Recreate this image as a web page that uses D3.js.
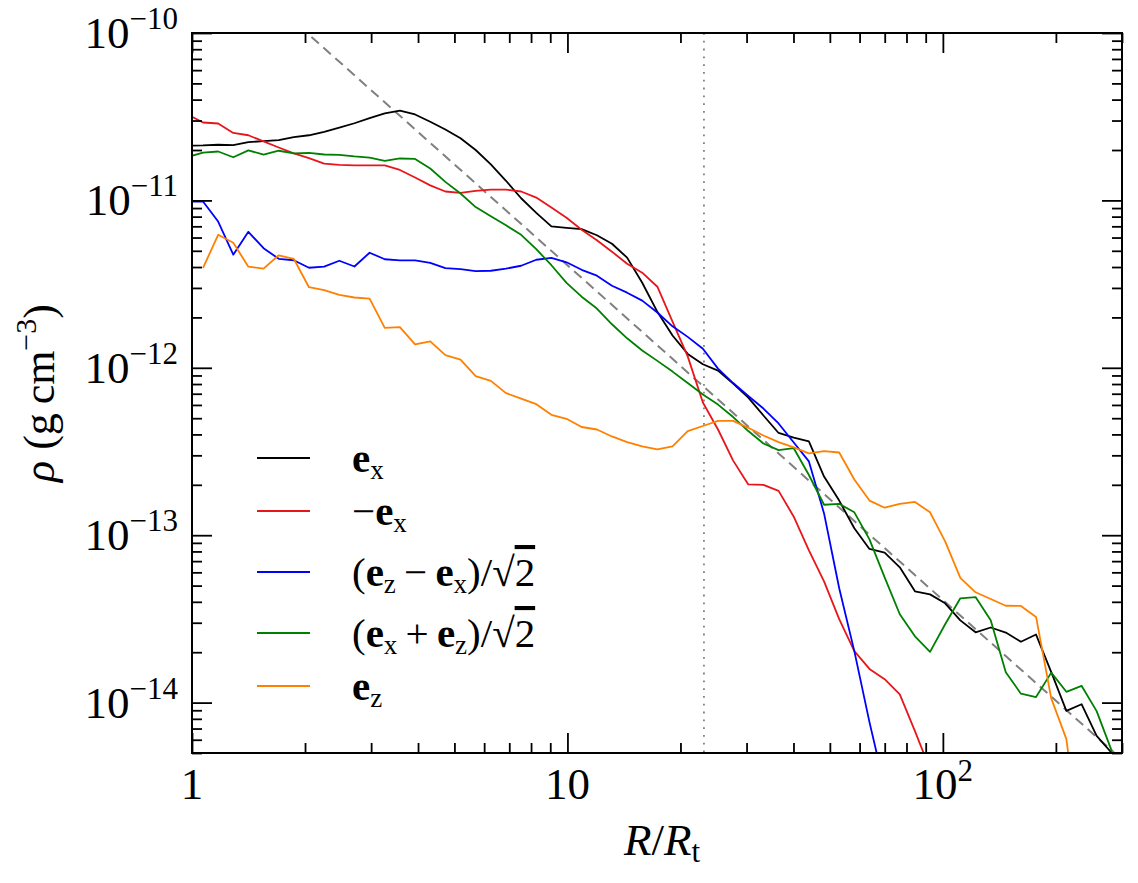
<!DOCTYPE html>
<html>
<head>
<meta charset="utf-8">
<script src="https://cdn.jsdelivr.net/npm/d3@7"></script>
<style>
  body { margin: 0; background: #fff; }
  text { font-family: "Liberation Serif", "Times New Roman", serif; fill: #000; }
</style>
</head>
<body>
<div id="app"></div>
<script>
// radial bins, R / R_t
const radius = [0.975, 1.070, 1.174, 1.288, 1.413, 1.551, 1.702, 1.867, 2.049, 2.249,
  2.468, 2.708, 2.972, 3.262, 3.579, 3.928, 4.311, 4.730, 5.191, 5.696,
  6.251, 6.860, 7.528, 8.261, 9.063, 9.945, 10.91, 11.98, 13.14, 14.42,
  15.82, 17.36, 19.05, 20.91, 22.95, 25.18, 27.63, 30.32, 33.27, 36.51,
  40.07, 43.97, 48.25, 52.95, 58.10, 63.75, 69.97, 76.78, 84.26, 92.44,
  101.4, 111.3, 122.2, 134.1, 147.1, 161.4, 177.1, 194.4, 213.3, 234.1,
  256.8, 281.8];

// density profiles (g cm^-3) along each direction
const rhoEx = [2.12e-11, 2.13e-11, 2.15e-11, 2.14e-11, 2.23e-11, 2.26e-11, 2.29e-11, 2.39e-11, 2.45e-11, 2.57e-11,
  2.72e-11, 2.89e-11, 3.10e-11, 3.31e-11, 3.44e-11, 3.26e-11, 2.95e-11, 2.65e-11, 2.35e-11, 2.00e-11,
  1.64e-11, 1.31e-11, 1.03e-11, 8.43e-12, 7.00e-12, 6.86e-12, 6.74e-12, 6.19e-12, 5.51e-12, 4.55e-12,
  3.22e-12, 2.16e-12, 1.56e-12, 1.21e-12, 1.05e-12, 9.62e-13, 8.05e-13, 6.64e-13, 5.19e-13, 4.08e-13,
  3.83e-13, 3.63e-13, 2.24e-13, 1.61e-13, 1.10e-13, 8.28e-14, 7.86e-14, 6.43e-14, 4.62e-14, 4.43e-14,
  3.92e-14, 3.10e-14, 2.63e-14, 2.81e-14, 2.62e-14, 2.31e-14, 2.55e-14, 1.52e-14, 8.92e-15, 9.78e-15,
  6.33e-15, 5.0e-15];

const rhoMinusEx = [3.26e-11, 2.92e-11, 2.88e-11, 2.53e-11, 2.45e-11, 2.25e-11, 2.07e-11, 1.91e-11, 1.79e-11, 1.66e-11,
  1.63e-11, 1.62e-11, 1.62e-11, 1.62e-11, 1.52e-11, 1.37e-11, 1.23e-11, 1.13e-11, 1.11e-11, 1.14e-11,
  1.16e-11, 1.16e-11, 1.13e-11, 1.04e-11, 9.06e-12, 7.87e-12, 6.68e-12, 5.78e-12, 4.94e-12, 4.18e-12,
  3.70e-12, 3.05e-12, 1.89e-12, 1.17e-12, 6.20e-13, 4.28e-13, 2.79e-13, 2.01e-13, 2.00e-13, 1.84e-13,
  1.29e-13, 8.12e-14, 5.30e-14, 3.15e-14, 2.03e-14, 1.59e-14, 1.38e-14, 1.12e-14, 6.75e-15, 4.0e-15];

const rhoZminusX = [9.85e-12, 9.85e-12, 7.48e-12, 4.74e-12, 6.49e-12, 5.18e-12, 4.48e-12, 4.39e-12, 3.96e-12, 4.02e-12,
  4.36e-12, 4.03e-12, 4.87e-12, 4.45e-12, 4.38e-12, 4.38e-12, 4.24e-12, 3.94e-12, 3.89e-12, 3.78e-12,
  3.80e-12, 3.91e-12, 4.07e-12, 4.42e-12, 4.53e-12, 4.27e-12, 3.85e-12, 3.55e-12, 3.09e-12, 2.81e-12,
  2.52e-12, 2.14e-12, 1.77e-12, 1.53e-12, 1.30e-12, 9.89e-13, 8.11e-13, 6.78e-13, 5.71e-13, 4.65e-13,
  3.58e-13, 2.76e-13, 1.35e-13, 4.82e-14, 2.03e-14, 7.64e-15, 3.13e-15];

const rhoXplusZ = [1.82e-11, 1.93e-11, 1.96e-11, 1.81e-11, 1.99e-11, 1.88e-11, 1.98e-11, 1.91e-11, 1.92e-11, 1.88e-11,
  1.87e-11, 1.83e-11, 1.80e-11, 1.72e-11, 1.78e-11, 1.77e-11, 1.55e-11, 1.29e-11, 1.10e-11, 9.12e-12,
  8.03e-12, 7.10e-12, 6.23e-12, 5.11e-12, 4.10e-12, 3.22e-12, 2.66e-12, 2.26e-12, 1.82e-12, 1.50e-12,
  1.27e-12, 1.10e-12, 9.49e-13, 8.11e-13, 6.92e-13, 6.03e-13, 5.08e-13, 4.19e-13, 3.53e-13, 3.22e-13,
  3.31e-13, 2.29e-13, 1.52e-13, 1.54e-13, 1.37e-13, 9.44e-14, 5.60e-14, 3.37e-14, 2.49e-14, 2.01e-14,
  2.94e-14, 4.20e-14, 4.27e-14, 3.10e-14, 1.52e-14, 1.13e-14, 1.08e-14, 1.51e-14, 1.16e-14, 1.26e-14,
  8.89e-15, 5.13e-15];

const rhoEz = [null, 3.95e-12, 6.23e-12, 5.58e-12, 4.02e-12, 3.91e-12, 4.70e-12, 4.48e-12, 3.03e-12, 2.91e-12,
  2.73e-12, 2.63e-12, 2.59e-12, 1.73e-12, 1.75e-12, 1.38e-12, 1.44e-12, 1.19e-12, 1.12e-12, 8.92e-13,
  8.35e-13, 7.06e-13, 6.55e-13, 6.06e-13, 5.24e-13, 4.96e-13, 4.43e-13, 4.28e-13, 3.89e-13, 3.60e-13,
  3.39e-13, 3.26e-13, 3.39e-13, 4.19e-13, 4.49e-13, 4.82e-13, 4.82e-13, 4.38e-13, 3.94e-13, 3.60e-13,
  3.35e-13, 3.08e-13, 3.18e-13, 3.12e-13, 2.15e-13, 1.61e-13, 1.46e-13, 1.54e-13, 1.58e-13, 1.37e-13,
  9.19e-14, 5.56e-14, 4.56e-14, 4.16e-14, 3.79e-14, 3.78e-14, 3.25e-14, 1.06e-14, 6.05e-15, 1.2e-15];

const seriesNames = ['ex', 'minusEx', 'zMinusX', 'xPlusZ', 'ez'];
const seriesColors = ['#000000', '#e8161b', '#0000ff', '#008000', '#ff8000'];
const seriesValues = [rhoEx, rhoMinusEx, rhoZminusX, rhoXplusZ, rhoEz];

// R^-2 guide and tidal radius marker
const guideR = [1, 300];
const guideRho = [4.1e-10, 4.56e-15];
const tidalR = 23.1;

const xMajor = [1, 10, 100];
const xMinor = [2, 3, 4, 5, 6, 7, 8, 9, 20, 30, 40, 50, 60, 70, 80, 90, 200, 300];
const xTickLabels = [['1', ''], ['10', ''], ['10', '2']];
const yMajor = [1e-14, 1e-13, 1e-12, 1e-11, 1e-10];
const yTickLabels = [['10', '\u221214'], ['10', '\u221213'], ['10', '\u221212'], ['10', '\u221211'], ['10', '\u221210']];

const width = 1138, height = 883;
const plot = { left: 192, top: 33, right: 1122, bottom: 753 };

const x = d3.scaleLog().domain([1, 300]).range([plot.left, plot.right]);
const y = d3.scaleLog().domain([5e-15, 1e-10]).range([plot.bottom, plot.top]);

const yMinor = [];
[-15, -14, -13, -12, -11].forEach(e => {
  for (let m = 2; m <= 9; m++) {
    const v = m * Math.pow(10, e);
    if (v >= 5e-15 && v < 1e-10) yMinor.push(v);
  }
});

const svg = d3.select('#app').append('svg')
  .attr('width', width)
  .attr('height', height);

svg.append('rect').attr('width', width).attr('height', height).attr('fill', '#fff');

svg.append('clipPath').attr('id', 'clip')
  .append('rect')
  .attr('x', plot.left).attr('y', plot.top)
  .attr('width', plot.right - plot.left).attr('height', plot.bottom - plot.top);

const body = svg.append('g').attr('clip-path', 'url(#clip)');

// vertical dotted line
body.append('line')
  .attr('x1', x(tidalR)).attr('x2', x(tidalR))
  .attr('y1', plot.top).attr('y2', plot.bottom)
  .attr('stroke', '#808080').attr('stroke-width', 1.8)
  .attr('stroke-dasharray', '1.8,6');

// dashed power-law guide
body.append('line')
  .attr('x1', x(guideR[0])).attr('y1', y(guideRho[0]))
  .attr('x2', x(guideR[1])).attr('y2', y(guideRho[1]))
  .attr('stroke', '#808080').attr('stroke-width', 2)
  .attr('stroke-dasharray', '10,6');

const line = d3.line()
  .defined(d => d.rho != null)
  .x(d => x(d.r))
  .y(d => y(d.rho));

seriesValues.forEach((vals, i) => {
  const pts = vals.map((v, j) => ({ r: radius[j], rho: v }));
  body.append('path')
    .datum(pts)
    .attr('fill', 'none')
    .attr('stroke', seriesColors[i])
    .attr('stroke-width', 1.8)
    .attr('stroke-linejoin', 'round')
    .attr('d', line);
});

// axes: inward ticks on all four sides
const tickStyle = g => {
  g.select('.domain').remove();
  g.selectAll('.tick line').attr('stroke', '#000').attr('stroke-width', 1.8);
};

const axes = [
  [d3.axisBottom(x), `translate(0,${plot.bottom})`, xMajor, xMinor],
  [d3.axisTop(x), `translate(0,${plot.top})`, xMajor, xMinor],
  [d3.axisLeft(y), `translate(${plot.left},0)`, yMajor, yMinor],
  [d3.axisRight(y), `translate(${plot.right},0)`, yMajor, yMinor]
];
axes.forEach(([ax, tr, major, minor]) => {
  svg.append('g').attr('transform', tr)
    .call(ax.tickValues(major).tickSizeInner(-20).tickSizeOuter(0).tickFormat(''))
    .call(tickStyle);
  svg.append('g').attr('transform', tr)
    .call(ax.tickValues(minor).tickSizeInner(-10).tickSizeOuter(0).tickFormat(''))
    .call(tickStyle);
});

// frame
svg.append('rect')
  .attr('x', plot.left).attr('y', plot.top)
  .attr('width', plot.right - plot.left).attr('height', plot.bottom - plot.top)
  .attr('fill', 'none').attr('stroke', '#000').attr('stroke-width', 2);

// tick labels
const labelSize = 45, supSize = 31;
xMajor.forEach((v, i) => {
  const t = svg.append('text')
    .attr('x', x(v)).attr('y', 799)
    .attr('text-anchor', 'middle')
    .attr('font-size', labelSize);
  t.append('tspan').text(xTickLabels[i][0]);
  if (xTickLabels[i][1]) t.append('tspan').attr('dy', -18).attr('font-size', supSize).text(xTickLabels[i][1]);
});
yMajor.forEach((v, i) => {
  const t = svg.append('text')
    .attr('x', 178).attr('y', y(v) + 15)
    .attr('text-anchor', 'end')
    .attr('font-size', labelSize);
  t.append('tspan').text(yTickLabels[i][0]);
  t.append('tspan').attr('dy', -19).attr('font-size', supSize).text(yTickLabels[i][1]);
});

// axis titles
const xt = svg.append('text')
  .attr('x', 662).attr('y', 855)
  .attr('text-anchor', 'middle')
  .attr('font-size', 45);
xt.append('tspan').attr('font-style', 'italic').text('R');
xt.append('tspan').text('/');
xt.append('tspan').attr('font-style', 'italic').text('R');
xt.append('tspan').attr('font-size', 31).attr('dy', 7).text('t');

const yt = svg.append('text')
  .attr('transform', 'translate(54,393) rotate(-90)')
  .attr('text-anchor', 'middle')
  .attr('font-size', 44);
yt.append('tspan').attr('font-style', 'italic').text('\u03c1');
yt.append('tspan').text(' (g\u2009cm');
yt.append('tspan').attr('font-size', 30).attr('dy', -18).text('\u22123');
yt.append('tspan').attr('dy', 18).text(')');

// legend
const legendY = [458, 511, 572, 633, 686];
const legend = svg.append('g');
const legendSize = 41, legendSub = 27;
const legendText = [
  t => { bold(t, 'e'); sub(t, 'x'); },
  t => { t.append('tspan').text('\u2212'); bold(t, 'e'); sub(t, 'x'); },
  t => {
    t.append('tspan').text('(');
    bold(t, 'e'); sub(t, 'z');
    t.append('tspan').attr('dy', -7).text('\u2009\u2212\u2009');
    bold(t, 'e'); sub(t, 'x');
    t.append('tspan').attr('dy', -7).text(')/\u221a');
    t.append('tspan').style('text-decoration', 'overline').text('2');
  },
  t => {
    t.append('tspan').text('(');
    bold(t, 'e'); sub(t, 'x');
    t.append('tspan').attr('dy', -7).text('\u2009+\u2009');
    bold(t, 'e'); sub(t, 'z');
    t.append('tspan').attr('dy', -7).text(')/\u221a');
    t.append('tspan').style('text-decoration', 'overline').text('2');
  },
  t => { bold(t, 'e'); sub(t, 'z'); }
];
function bold(t, s) {
  t.append('tspan').attr('font-weight', 'bold').text(s);
}
function sub(t, s) {
  t.append('tspan').attr('font-size', legendSub).attr('dy', 7).text(s);
}
seriesNames.forEach((name, i) => {
  legend.append('line')
    .attr('x1', 257).attr('x2', 310)
    .attr('y1', legendY[i]).attr('y2', legendY[i])
    .attr('stroke', seriesColors[i]).attr('stroke-width', 2);
  const t = legend.append('text')
    .attr('x', 352).attr('y', legendY[i] + 14)
    .attr('font-size', legendSize);
  legendText[i](t);
});
</script>
</body>
</html>
